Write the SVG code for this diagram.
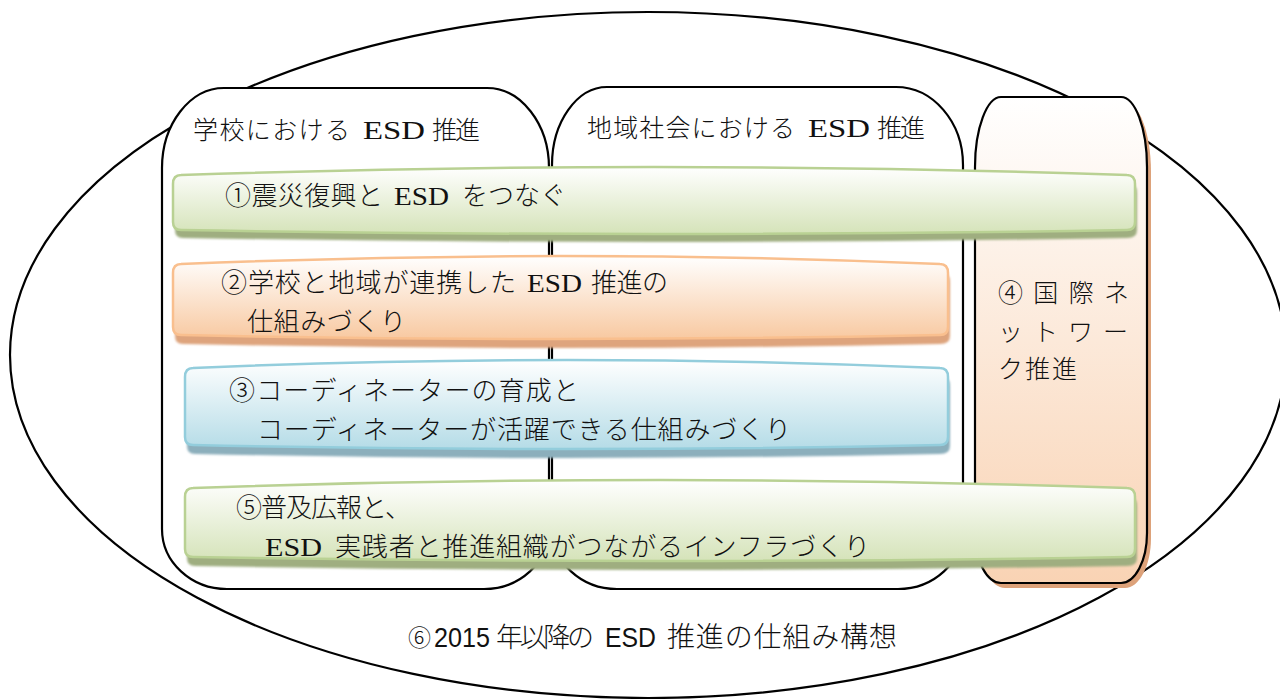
<svg xmlns="http://www.w3.org/2000/svg" width="1280" height="699" viewBox="0 0 1280 699">
<style>
.box{fill:#fff;stroke:#000;stroke-width:2.2}
.t{font-family:"Liberation Serif","Noto Sans CJK JP",serif;font-weight:300;fill:#111}
.e{font-family:"Liberation Serif","Noto Sans CJK JP",serif;fill:#111}
.cap{font-family:"Liberation Sans","Noto Sans CJK JP",sans-serif;font-weight:300;fill:#111}
.gbar{fill:url(#gG);stroke:#b9d193;stroke-width:2.5}
.obar{fill:url(#gO);stroke:#f9bf8e;stroke-width:2.5}
.bbar{fill:url(#gB);stroke:#93cddc;stroke-width:2.5}
</style>
<defs>
<linearGradient id="gG" x1="0" y1="0" x2="0" y2="1"><stop offset="0" stop-color="#ffffff"/><stop offset="1" stop-color="#d5e3b9"/></linearGradient>
<linearGradient id="gO" x1="0" y1="0" x2="0" y2="1"><stop offset="0" stop-color="#ffffff"/><stop offset="1" stop-color="#f8c9a1"/></linearGradient>
<linearGradient id="gB" x1="0" y1="0" x2="0" y2="1"><stop offset="0" stop-color="#ffffff"/><stop offset="1" stop-color="#b5dce7"/></linearGradient>
<linearGradient id="gP" x1="0" y1="0" x2="0" y2="1"><stop offset="0" stop-color="#ffffff"/><stop offset="1" stop-color="#f9d3b4"/></linearGradient>
<filter id="blur" x="-5%" y="-20%" width="110%" height="140%"><feGaussianBlur stdDeviation="1.2"/></filter>
</defs>

<g id="outer">
<ellipse cx="648" cy="355" rx="638" ry="343" fill="#fff" stroke="#000" stroke-width="2.2"/>
<g id="caption" font-size="27">
<text class="cap" x="408" y="646" font-size="23">⑥</text>
<text class="cap" x="434" y="647" textLength="56" lengthAdjust="spacingAndGlyphs">2015</text>
<text class="cap" x="496" y="647" textLength="98" lengthAdjust="spacing">年以降の</text>
<text class="cap" x="605" y="647" textLength="51" lengthAdjust="spacingAndGlyphs">ESD</text>
<text class="cap" x="667" y="647" font-size="28" textLength="230" lengthAdjust="spacing">推進の仕組み構想</text>
</g>
</g>

<g id="school">
<path class="box" d="M224,88 L487,88 C521,88 549,124 549,168 L549,529 C549,562 520,589 484,589 L227,589 C191,589 162,562 162,529 L162,168 C162,124 190,88 224,88 Z"/>
<g font-size="25">
<text class="t" x="193" y="139" textLength="157" lengthAdjust="spacing">学校における</text>
<text class="e" x="363" y="139" textLength="62" lengthAdjust="spacingAndGlyphs">ESD</text>
<text class="t" x="432" y="139" textLength="48" lengthAdjust="spacing">推進</text>
</g>
</g>

<g id="community">
<path class="box" d="M607,87 L896,87 C933,87 963,122 963,165 L963,529 C963,562 934,589 898,589 L617,589 C581,589 552,562 552,529 L552,165 C552,122 577,87 607,87 Z"/>
<g font-size="25">
<text class="t" x="587" y="137" textLength="208" lengthAdjust="spacing">地域社会における</text>
<text class="e" x="808" y="137" textLength="62" lengthAdjust="spacingAndGlyphs">ESD</text>
<text class="t" x="877" y="137" textLength="48" lengthAdjust="spacing">推進</text>
</g>
</g>

<g id="international">
<path d="M1005,102 L1125,102 C1139,102 1151,133 1151,172 L1151,538 C1151,566 1139,588 1125,588 L1005,588 C991,588 979,566 979,538 L979,172 C979,133 991,102 1005,102 Z" fill="#dda27a"/>
<path d="M1001,97 L1121,97 C1135,97 1147,128 1147,167 L1147,533 C1147,561 1135,583 1121,583 L1001,583 C987,583 975,561 975,533 L975,167 C975,128 987,97 1001,97 Z" fill="url(#gP)" stroke="#000" stroke-width="2.2"/>
<text class="t" x="998" y="302" font-size="25" textLength="131" lengthAdjust="spacing">④国際ネ</text>
<text class="t" x="998" y="341" font-size="25" textLength="130" lengthAdjust="spacing">ットワー</text>
<text class="t" x="998" y="378" font-size="25" textLength="79" lengthAdjust="spacing">ク推進</text>
</g>

<g id="bar1">
<path d="M183,183 Q654,159 1127,183 Q1137,183 1137,193 L1137,230 Q1137,238 1127,238 Q654,246 183,238 Q175,238 175,230 L175,193 Q175,183 183,183 Z" fill="#9fae80" filter="url(#blur)"/>
<path class="gbar" d="M181,175 Q654,159 1127,175 Q1135,175 1135,184 L1135,222 Q1135,230 1127,230 Q654,238 181,230 Q173,230 173,222 L173,184 Q173,175 181,175 Z"/>
<g font-size="26">
<text class="t" x="225" y="205" textLength="158" lengthAdjust="spacing">①震災復興と</text>
<text class="e" x="394" y="205" textLength="55" lengthAdjust="spacingAndGlyphs">ESD</text>
<text class="t" x="462" y="205" textLength="104" lengthAdjust="spacing">をつなぐ</text>
</g>
</g>

<g id="bar2">
<path d="M183,272 Q561,248 940,272 Q950,272 950,282 L950,336 Q950,344 940,344 Q561,352 183,344 Q175,344 175,336 L175,282 Q175,272 183,272 Z" fill="#dea47d" filter="url(#blur)"/>
<path class="obar" d="M181,264 Q561,248 940,264 Q948,264 948,273 L948,327 Q948,335 940,335 Q561,343 181,335 Q173,335 173,327 L173,273 Q173,264 181,264 Z"/>
<g font-size="26">
<text class="t" x="221" y="292" textLength="295" lengthAdjust="spacing">②学校と地域が連携した</text>
<text class="e" x="527" y="292" textLength="55" lengthAdjust="spacingAndGlyphs">ESD</text>
<text class="t" x="591" y="292" textLength="77" lengthAdjust="spacing">推進の</text>
<text class="t" x="247" y="331" textLength="159" lengthAdjust="spacing">仕組みづくり</text>
</g>
</g>

<g id="bar3">
<path d="M195,376 Q567,352 940,376 Q950,376 950,386 L950,446 Q950,454 940,454 Q567,462 195,454 Q187,454 187,446 L187,386 Q187,376 195,376 Z" fill="#8cafbc" filter="url(#blur)"/>
<path class="bbar" d="M193,368 Q567,352 940,368 Q948,368 948,377 L948,437 Q948,445 940,445 Q567,453 193,445 Q185,445 185,437 L185,377 Q185,368 193,368 Z"/>
<g font-size="26">
<text class="t" x="229" y="400" textLength="350" lengthAdjust="spacing">③コーディネーターの育成と</text>
<text class="t" x="257" y="439" textLength="534" lengthAdjust="spacing">コーディネーターが活躍できる仕組みづくり</text>
</g>
</g>

<g id="bar5">
<path d="M195,496 Q661,472 1127,496 Q1137,496 1137,506 L1137,558 Q1137,566 1127,566 Q661,574 195,566 Q187,566 187,558 L187,506 Q187,496 195,496 Z" fill="#9fae80" filter="url(#blur)"/>
<path class="gbar" d="M193,488 Q661,472 1127,488 Q1135,488 1135,497 L1135,549 Q1135,557 1127,557 Q661,565 193,557 Q185,557 185,549 L185,497 Q185,488 193,488 Z"/>
<g font-size="26">
<text class="t" x="236" y="517" textLength="175" lengthAdjust="spacing">⑤普及広報と、</text>
<text class="e" x="265" y="556" textLength="57" lengthAdjust="spacingAndGlyphs">ESD</text>
<text class="t" x="335" y="556" textLength="535" lengthAdjust="spacing">実践者と推進組織がつながるインフラづくり</text>
</g>
</g>

<g id="connectors"/>
</svg>
